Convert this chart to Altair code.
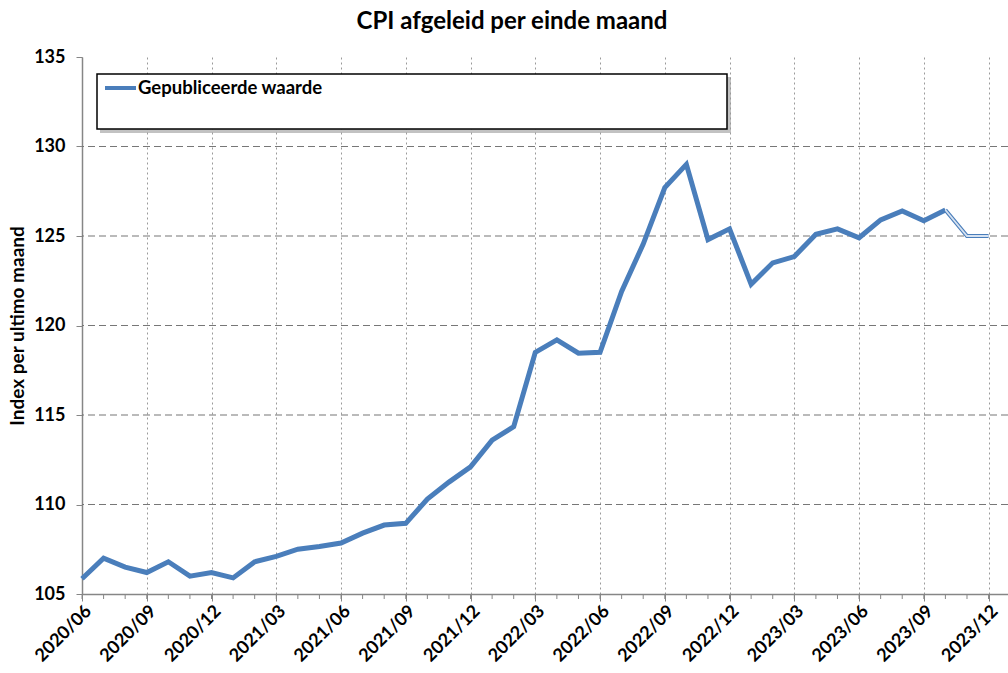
import json
import altair as alt
import pandas as pd

# ---- data ----
months = ["2020/06", "2020/07", "2020/08", "2020/09", "2020/10", "2020/11", "2020/12",
          "2021/01", "2021/02", "2021/03", "2021/04", "2021/05", "2021/06", "2021/07",
          "2021/08", "2021/09", "2021/10", "2021/11", "2021/12", "2022/01", "2022/02",
          "2022/03", "2022/04", "2022/05", "2022/06", "2022/07", "2022/08", "2022/09",
          "2022/10", "2022/11", "2022/12", "2023/01", "2023/02", "2023/03", "2023/04",
          "2023/05", "2023/06", "2023/07", "2023/08", "2023/09", "2023/10", "2023/11",
          "2023/12"]
cpi = [105.85, 107.0, 106.5, 106.2, 106.8, 106.0, 106.2,
       105.9, 106.8, 107.1, 107.5, 107.65, 107.85, 108.4,
       108.85, 108.95, 110.3, 111.25, 112.1, 113.6, 114.35,
       118.5, 119.2, 118.45, 118.5, 121.9, 124.55, 127.7,
       129.0, 124.8, 125.4, 122.3, 123.5, 123.85, 125.1,
       125.4, 124.9, 125.9, 126.4, 125.85, 126.45, 125.0,
       125.0]
n_published = 41          # thick line up to 2023/10, thin line after
y_ticks = [105, 110, 115, 120, 125, 130, 135]
h_grid = [110, 115, 120, 125, 130]
x_major = list(range(0, len(months), 3))
legend_label = "Gepubliceerde waarde"

df = pd.DataFrame({"idx": list(range(len(months))), "maand": months, "cpi": cpi})
main_df = df.iloc[:n_published]
tail_df = df.iloc[n_published - 1:]

W, H = 926, 537
FONT = "Lato"
BLUE = "#4a7ebb"
AX = "#868686"

x_scale = alt.Scale(domain=[0, 42.9], nice=False, zero=False)
y_scale = alt.Scale(domain=[105, 135], nice=False, zero=False)

label_expr = json.dumps(months) + "[datum.value]"

x_axis = alt.Axis(values=x_major, labelExpr=label_expr, labelAngle=315,
                  labelAlign="right", labelBaseline="top", labelFont=FONT,
                  labelFontWeight="bold", labelFontSize=18, labelColor="black",
                  labelPadding=1, tickSize=7, tickColor=AX, domainColor=AX,
                  domainWidth=1.5, grid=True, gridDash=[2, 3], gridColor="#9a9a9a",
                  gridWidth=1, title=None, labelOverlap=False, labelBound=False)
y_axis = alt.Axis(values=y_ticks, labelFont=FONT, labelFontWeight="bold",
                  labelFontSize=18, labelColor="black", labelPadding=11,
                  tickSize=6, tickColor=AX, domainColor=AX, domainWidth=1.5,
                  grid=False, title="Index per ultimo maand", titleFont=FONT,
                  titleFontWeight="bold", titleFontSize=19, titleColor="black",
                  titlePadding=6)


def xq(field="idx"):
    return alt.X(f"{field}:Q", scale=x_scale, axis=x_axis)


def yq(field="cpi"):
    return alt.Y(f"{field}:Q", scale=y_scale, axis=y_axis)


grid = alt.Chart(pd.DataFrame({"g": h_grid})).mark_rule(
    color="#777777", strokeDash=[7, 4], strokeWidth=1.2
).encode(y=yq("g"))

minor = alt.Chart(df).mark_rule(color=AX, strokeWidth=1).encode(
    x=xq(), y=alt.value(H), y2=alt.value(H + 5))

main_line = alt.Chart(main_df).mark_line(color=BLUE, strokeWidth=5).encode(
    x=xq(), y=yq())
tail_outer = alt.Chart(tail_df).mark_line(color=BLUE, strokeWidth=4).encode(
    x=xq(), y=yq())
tail_inner = alt.Chart(tail_df).mark_line(color="#d6e2f1", strokeWidth=1.8).encode(
    x=xq(), y=yq())

one = pd.DataFrame({"a": [0]})
shadow = alt.Chart(one).mark_rect(color="#9a9a9a", opacity=0.6).encode(
    x=alt.value(18), x2=alt.value(649), y=alt.value(20), y2=alt.value(76))
box = alt.Chart(one).mark_rect(fill="white", stroke="black", strokeWidth=1.5).encode(
    x=alt.value(15), x2=alt.value(645), y=alt.value(17), y2=alt.value(72))
sample = alt.Chart(one).mark_rule(color=BLUE, strokeWidth=4).encode(
    x=alt.value(23), x2=alt.value(54), y=alt.value(31))
legend_text = alt.Chart(pd.DataFrame({"t": [legend_label]})).mark_text(
    font=FONT, fontWeight="bold", fontSize=18.5, align="left", baseline="middle",
    color="black").encode(x=alt.value(56), y=alt.value(31), text="t:N")

chart = alt.layer(
    grid, minor, main_line, tail_outer, tail_inner, shadow, box, sample, legend_text
).properties(
    width=W, height=H,
    title=alt.TitleParams("CPI afgeleid per einde maand", font=FONT, fontSize=24,
                          fontWeight="bold", color="black", anchor="middle",
                          dx=-33, offset=14),
    autosize=alt.AutoSizeParams(type="none"),
    padding={"left": 82, "top": 57, "right": 0, "bottom": 79},
).configure(background="white",
            view=alt.ViewConfig(stroke="transparent", strokeWidth=0))

chart.save("out.html", embed_options={"renderer": "svg", "actions": False})
